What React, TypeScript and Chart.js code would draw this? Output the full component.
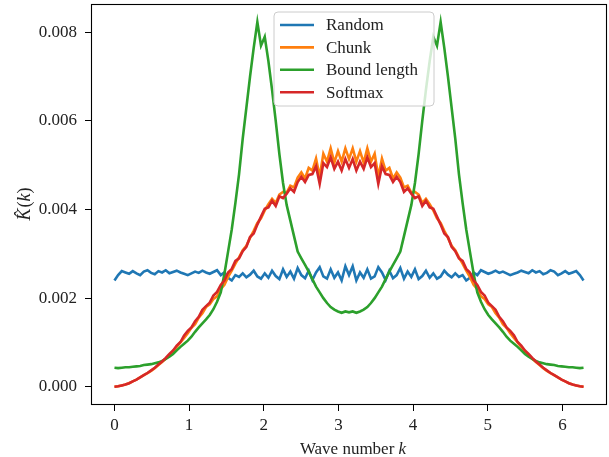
import React, { useEffect, useRef } from "react";
import { Chart, registerables } from "chart.js";

Chart.register(...registerables);

// Wave numbers k (0 .. 2π)
const K = [0, 0.049, 0.098, 0.147, 0.196, 0.245, 0.295, 0.344, 0.393, 0.442, 0.491, 0.540, 0.589, 0.638, 0.687, 0.736, 0.785, 0.834, 0.884, 0.933, 0.982, 1.031, 1.080, 1.129, 1.178, 1.227, 1.276, 1.325, 1.374, 1.424, 1.473, 1.522, 1.571, 1.620, 1.669, 1.718, 1.767, 1.816, 1.865, 1.914, 1.963, 2.013, 2.062, 2.111, 2.160, 2.209, 2.258, 2.307, 2.356, 2.405, 2.454, 2.503, 2.553, 2.602, 2.651, 2.700, 2.749, 2.798, 2.847, 2.896, 2.945, 2.994, 3.043, 3.093, 3.142,
  3.191, 3.240, 3.289, 3.338, 3.387, 3.436, 3.485, 3.534, 3.583, 3.632, 3.682, 3.731, 3.780, 3.829, 3.878, 3.927, 3.976, 4.025, 4.074, 4.123, 4.172, 4.222, 4.271, 4.320, 4.369, 4.418, 4.467, 4.516, 4.565, 4.614, 4.663, 4.712, 4.761, 4.811, 4.860, 4.909, 4.958, 5.007, 5.056, 5.105, 5.154, 5.203, 5.252, 5.301, 5.351, 5.400, 5.449, 5.498, 5.547, 5.596, 5.645, 5.694, 5.743, 5.792, 5.841, 5.890, 5.940, 5.989, 6.038, 6.087, 6.136, 6.185, 6.234, 6.283];

const RANDOM = [0.00240, 0.00252, 0.00261, 0.00258, 0.00255, 0.00261, 0.00256, 0.00252, 0.00260, 0.00263, 0.00257, 0.00254, 0.00261, 0.00258, 0.00263, 0.00256, 0.00259, 0.00262, 0.00258, 0.00255, 0.00252, 0.00256, 0.00260, 0.00257, 0.00262, 0.00258, 0.00255, 0.00259, 0.00263, 0.00252, 0.00258, 0.00246, 0.00240, 0.00252, 0.00248, 0.00256, 0.00247, 0.00253, 0.00262, 0.00249, 0.00244, 0.00256, 0.00246, 0.00262, 0.00250, 0.00243, 0.00265, 0.00248, 0.00260, 0.00244, 0.00268, 0.00252, 0.00245, 0.00262, 0.00241, 0.00258, 0.00270, 0.00249, 0.00244, 0.00265, 0.00246, 0.00258, 0.00240, 0.00272, 0.00252,
  0.00272, 0.00240, 0.00258, 0.00246, 0.00265, 0.00244, 0.00249, 0.00270, 0.00258, 0.00241, 0.00262, 0.00245, 0.00252, 0.00268, 0.00244, 0.00260, 0.00248, 0.00265, 0.00243, 0.00250, 0.00262, 0.00246, 0.00256, 0.00244, 0.00249, 0.00262, 0.00253, 0.00247, 0.00256, 0.00248, 0.00252, 0.00240, 0.00246, 0.00258, 0.00252, 0.00263, 0.00259, 0.00255, 0.00258, 0.00262, 0.00257, 0.00260, 0.00256, 0.00252, 0.00255, 0.00258, 0.00262, 0.00259, 0.00256, 0.00263, 0.00258, 0.00261, 0.00254, 0.00257, 0.00263, 0.00260, 0.00252, 0.00256, 0.00261, 0.00255, 0.00258, 0.00261, 0.00252, 0.00240];

const CHUNK = [0.00000, 0.00001, 0.00003, 0.00005, 0.00008, 0.00012, 0.00016, 0.00021, 0.00026, 0.00031, 0.00036, 0.00042, 0.00049, 0.00056, 0.00063, 0.00071, 0.00080, 0.00090, 0.00100, 0.00110, 0.00121, 0.00133, 0.00141, 0.00156, 0.00166, 0.00180, 0.00186, 0.00198, 0.00204, 0.00220, 0.00230, 0.00248, 0.00262, 0.00278, 0.00292, 0.00308, 0.00318, 0.00336, 0.00352, 0.00370, 0.00380, 0.00398, 0.00412, 0.00424, 0.00415, 0.00434, 0.00440, 0.00438, 0.00454, 0.00450, 0.00472, 0.00484, 0.00470, 0.00494, 0.00488, 0.00515, 0.00474, 0.00526, 0.00508, 0.00538, 0.00506, 0.00532, 0.00508, 0.00538, 0.00514,
  0.00538, 0.00508, 0.00532, 0.00506, 0.00538, 0.00508, 0.00526, 0.00474, 0.00515, 0.00488, 0.00494, 0.00470, 0.00484, 0.00472, 0.00450, 0.00454, 0.00438, 0.00440, 0.00434, 0.00415, 0.00424, 0.00412, 0.00398, 0.00380, 0.00370, 0.00352, 0.00336, 0.00318, 0.00308, 0.00292, 0.00278, 0.00262, 0.00248, 0.00230, 0.00220, 0.00204, 0.00198, 0.00186, 0.00180, 0.00166, 0.00156, 0.00141, 0.00133, 0.00121, 0.00110, 0.00100, 0.00090, 0.00080, 0.00071, 0.00063, 0.00056, 0.00049, 0.00042, 0.00036, 0.00031, 0.00026, 0.00021, 0.00016, 0.00012, 0.00008, 0.00005, 0.00003, 0.00001, 0.00000];

const BOUND_LENGTH = [0.00043, 0.00042, 0.00043, 0.00044, 0.00044, 0.00045, 0.00046, 0.00047, 0.00049, 0.00050, 0.00051, 0.00053, 0.00055, 0.00058, 0.00063, 0.00068, 0.00074, 0.00082, 0.00090, 0.00097, 0.00104, 0.00113, 0.00124, 0.00134, 0.00143, 0.00152, 0.00162, 0.00175, 0.00192, 0.00213, 0.00255, 0.00305, 0.00355, 0.00415, 0.00480, 0.00560, 0.00630, 0.00700, 0.00765, 0.00823, 0.00770, 0.00790, 0.00735, 0.00670, 0.00600, 0.00525, 0.00460, 0.00410, 0.00375, 0.00340, 0.00305, 0.00290, 0.00275, 0.00260, 0.00243, 0.00226, 0.00213, 0.00200, 0.00189, 0.00180, 0.00174, 0.00170, 0.00167, 0.00170, 0.00168,
  0.00170, 0.00167, 0.00170, 0.00174, 0.00180, 0.00189, 0.00200, 0.00213, 0.00226, 0.00243, 0.00260, 0.00275, 0.00290, 0.00305, 0.00340, 0.00375, 0.00410, 0.00460, 0.00525, 0.00600, 0.00670, 0.00735, 0.00790, 0.00770, 0.00823, 0.00765, 0.00700, 0.00630, 0.00560, 0.00480, 0.00415, 0.00355, 0.00305, 0.00255, 0.00213, 0.00192, 0.00175, 0.00162, 0.00152, 0.00143, 0.00134, 0.00124, 0.00113, 0.00104, 0.00097, 0.00090, 0.00082, 0.00074, 0.00068, 0.00063, 0.00058, 0.00055, 0.00053, 0.00051, 0.00050, 0.00049, 0.00047, 0.00046, 0.00045, 0.00044, 0.00044, 0.00043, 0.00042, 0.00043];

const SOFTMAX = [0.00000, 0.00001, 0.00003, 0.00005, 0.00008, 0.00012, 0.00016, 0.00021, 0.00026, 0.00031, 0.00037, 0.00043, 0.00050, 0.00057, 0.00065, 0.00074, 0.00082, 0.00093, 0.00101, 0.00116, 0.00126, 0.00134, 0.00148, 0.00158, 0.00174, 0.00182, 0.00190, 0.00206, 0.00214, 0.00230, 0.00240, 0.00258, 0.00266, 0.00284, 0.00290, 0.00306, 0.00316, 0.00338, 0.00346, 0.00366, 0.00384, 0.00402, 0.00405, 0.00420, 0.00408, 0.00430, 0.00426, 0.00436, 0.00448, 0.00440, 0.00462, 0.00474, 0.00462, 0.00478, 0.00480, 0.00498, 0.00458, 0.00505, 0.00496, 0.00518, 0.00492, 0.00508, 0.00488, 0.00514, 0.00494,
  0.00514, 0.00488, 0.00508, 0.00492, 0.00518, 0.00496, 0.00505, 0.00458, 0.00498, 0.00480, 0.00478, 0.00462, 0.00474, 0.00462, 0.00440, 0.00448, 0.00436, 0.00426, 0.00430, 0.00408, 0.00420, 0.00405, 0.00402, 0.00384, 0.00366, 0.00346, 0.00338, 0.00316, 0.00306, 0.00290, 0.00284, 0.00266, 0.00258, 0.00240, 0.00230, 0.00214, 0.00206, 0.00190, 0.00182, 0.00174, 0.00158, 0.00148, 0.00134, 0.00126, 0.00116, 0.00101, 0.00093, 0.00082, 0.00074, 0.00065, 0.00057, 0.00050, 0.00043, 0.00037, 0.00031, 0.00026, 0.00021, 0.00016, 0.00012, 0.00008, 0.00005, 0.00003, 0.00001, 0.00000];

const SERIES_NAMES = ["Random", "Chunk", "Bound length", "Softmax"];
const SERIES_COLORS = ["#1f77b4", "#ff7f0e", "#2ca02c", "#d62728"];
const X_TICKS = [0, 1, 2, 3, 4, 5, 6];
const Y_TICKS = [0, 0.002, 0.004, 0.006, 0.008];
const X_LABEL = "Wave number ";
const X_LABEL_VAR = "k";
const Y_LABEL_PARTS = [
  { t: "K\u0302", italic: true },
  { t: "(", italic: false },
  { t: "k", italic: true },
  { t: ")", italic: false },
];

const FONT = '"Liberation Serif", "DejaVu Serif", serif';
const TEXT_COLOR = "#222222";

const framePlugin = {
  id: "frame",
  afterDatasetsDraw(chart: any) {
    const { ctx, chartArea: a } = chart;
    ctx.save();
    ctx.strokeStyle = "#000";
    ctx.lineWidth = 1.1;
    ctx.strokeRect(Math.round(a.left) + 0.5, Math.round(a.top) + 0.5, Math.round(a.width) - 1, Math.round(a.height) - 1);
    ctx.restore();
  },
};

const legendPlugin = {
  id: "mplLegend",
  afterDraw(chart: any) {
    const { ctx, chartArea: a } = chart;
    ctx.save();
    const left = a.left + 183;
    const top = a.top + 8;
    const w = 160;
    const h = 94;
    const r = 4;
    ctx.beginPath();
    ctx.moveTo(left + r, top);
    ctx.lineTo(left + w - r, top);
    ctx.quadraticCurveTo(left + w, top, left + w, top + r);
    ctx.lineTo(left + w, top + h - r);
    ctx.quadraticCurveTo(left + w, top + h, left + w - r, top + h);
    ctx.lineTo(left + r, top + h);
    ctx.quadraticCurveTo(left, top + h, left, top + h - r);
    ctx.lineTo(left, top + r);
    ctx.quadraticCurveTo(left, top, left + r, top);
    ctx.closePath();
    ctx.fillStyle = "rgba(255,255,255,0.8)";
    ctx.fill();
    ctx.strokeStyle = "#cccccc";
    ctx.lineWidth = 1;
    ctx.stroke();
    ctx.font = `17px ${FONT}`;
    ctx.textBaseline = "middle";
    ctx.textAlign = "left";
    SERIES_NAMES.forEach((name, i) => {
      const y = top + 13 + i * 22.4;
      ctx.strokeStyle = SERIES_COLORS[i];
      ctx.lineWidth = 2.6;
      ctx.beginPath();
      ctx.moveTo(left + 6, y);
      ctx.lineTo(left + 40, y);
      ctx.stroke();
      ctx.fillStyle = TEXT_COLOR;
      ctx.fillText(name, left + 52, y + 1);
    });
    ctx.restore();
  },
};

const axisTitlePlugin = {
  id: "axisTitles",
  afterDraw(chart: any) {
    const { ctx, chartArea: a } = chart;
    ctx.save();
    ctx.fillStyle = TEXT_COLOR;
    ctx.textBaseline = "alphabetic";
    const normalFont = `17px ${FONT}`;
    const italicFont = `italic 17px ${FONT}`;
    ctx.font = normalFont;
    const w1 = ctx.measureText(X_LABEL).width;
    ctx.font = italicFont;
    const w2 = ctx.measureText(X_LABEL_VAR).width;
    const cx = (a.left + a.right) / 2 + 4;
    const x = cx - (w1 + w2) / 2;
    ctx.font = normalFont;
    ctx.textAlign = "left";
    ctx.fillText(X_LABEL, x, 454);
    ctx.font = italicFont;
    ctx.fillText(X_LABEL_VAR, x + w1, 454);
    ctx.translate(30, (a.top + a.bottom) / 2);
    ctx.rotate(-Math.PI / 2);
    let total = 0;
    const widths = Y_LABEL_PARTS.map((p) => {
      ctx.font = p.italic ? `italic 18px ${FONT}` : `18px ${FONT}`;
      const wd = ctx.measureText(p.t).width;
      total += wd;
      return wd;
    });
    let px = -total / 2;
    Y_LABEL_PARTS.forEach((p, i) => {
      ctx.font = p.italic ? `italic 18px ${FONT}` : `18px ${FONT}`;
      ctx.fillText(p.t, px, 0);
      px += widths[i] + (i === 0 ? 1 : 0);
    });
    ctx.restore();
  },
};

export default function App() {
  const canvasRef = useRef<HTMLCanvasElement | null>(null);

  useEffect(() => {
    const canvas = canvasRef.current;
    if (!canvas) return;
    const seriesValues = [RANDOM, CHUNK, BOUND_LENGTH, SOFTMAX];
    const datasets = seriesValues.map((vals, i) => ({
      label: SERIES_NAMES[i],
      data: K.map((k, j) => ({ x: k, y: vals[j] })),
      borderColor: SERIES_COLORS[i],
      backgroundColor: SERIES_COLORS[i],
      borderWidth: 2.6,
      pointRadius: 0,
      tension: 0,
      fill: false,
      order: 4 - i,
    }));

    const chart = new Chart(canvas, {
      type: "line",
      data: { datasets },
      options: {
        animation: false,
        responsive: false,
        devicePixelRatio: 1,
        parsing: false as any,
        layout: { padding: { left: 0, right: 2, top: 4, bottom: 0 } },
        plugins: { legend: { display: false }, tooltip: { enabled: false } },
        scales: {
          x: {
            type: "linear",
            min: -0.3142,
            max: 6.5973,
            afterBuildTicks: (s: any) => {
              s.ticks = X_TICKS.map((v) => ({ value: v }));
            },
            afterFit: (s: any) => {
              s.height = 52;
              s.paddingLeft = 0;
              s.paddingRight = 0;
            },
            grid: { display: true, drawOnChartArea: false, drawTicks: true, tickLength: 6, color: "#000", lineWidth: 1 },
            border: { display: false },
            ticks: {
              font: { family: FONT, size: 17 },
              color: TEXT_COLOR,
              padding: 4,
              maxRotation: 0,
              autoSkip: false,
              callback: (v: any) => String(v),
            },
          },
          y: {
            type: "linear",
            min: -0.000412,
            max: 0.00864,
            afterBuildTicks: (s: any) => {
              s.ticks = Y_TICKS.map((v) => ({ value: v }));
            },
            afterFit: (s: any) => {
              s.width = 91;
              s.paddingTop = 0;
              s.paddingBottom = 0;
            },
            grid: { display: true, drawOnChartArea: false, drawTicks: true, tickLength: 6, color: "#000", lineWidth: 1 },
            border: { display: false },
            ticks: {
              font: { family: FONT, size: 17 },
              color: TEXT_COLOR,
              padding: 8,
              autoSkip: false,
              callback: (v: any) => Number(v).toFixed(3),
            },
          },
        },
      },
      plugins: [framePlugin, legendPlugin, axisTitlePlugin],
    });
    return () => chart.destroy();
  }, []);

  return (
    <div style={{ position: "fixed", left: 0, top: 0, width: 609, height: 457, background: "#fff" }}>
      <canvas ref={canvasRef} width={609} height={457} style={{ width: 609, height: 457, display: "block" }} />
    </div>
  );
}
